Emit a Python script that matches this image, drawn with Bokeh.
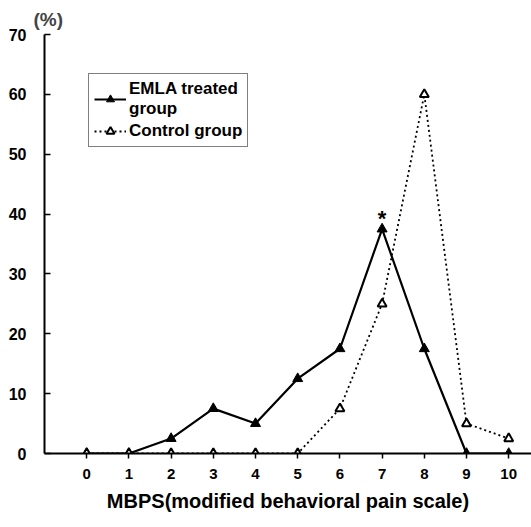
from bokeh.plotting import figure
from bokeh.models import Range1d, Legend, LegendItem, FixedTicker
from bokeh.core.properties import value
from bokeh.embed import file_html
from bokeh.resources import INLINE

# Data
scores = [0, 1, 2, 3, 4, 5, 6, 7, 8, 9, 10]
emla = [0, 0, 2.5, 7.5, 5, 12.5, 17.5, 37.5, 17.5, 0, 0]
control = [0, 0, 0, 0, 0, 0, 7.5, 25, 60, 5, 2.5]
y_ticks = [0, 10, 20, 30, 40, 50, 60, 70]
star_x = [7]
star_y = [39.2]
star_text = ["*"]

FONT = "Liberation Sans"

p = figure(width=531, height=527, output_backend="svg", toolbar_location=None,
           x_range=Range1d(-1.0, 10.54), y_range=Range1d(0, 70),
           min_border_left=44, min_border_right=0, min_border_top=34, min_border_bottom=74)
p.grid.visible = False
p.outline_line_color = None
p.background_fill_color = "white"

p.title.text = "(%)"
p.title.text_font = FONT
p.title.text_font_size = "19px"
p.title.text_font_style = "bold"
p.title.align = "left"
p.title.offset = -11
p.title.standoff = 9

# Axes
p.xaxis.ticker = FixedTicker(ticks=scores)
p.yaxis.ticker = FixedTicker(ticks=y_ticks)
for ax in (p.xaxis[0], p.yaxis[0]):
    ax.axis_line_width = 2
    ax.axis_line_color = "black"
    ax.major_tick_line_width = 1.5
    ax.minor_tick_line_color = None
    ax.major_label_text_font = FONT
    ax.major_label_text_font_style = "bold"
    ax.major_label_text_color = "black"

p.xaxis.major_tick_in = 0
p.xaxis.major_tick_out = 5
p.xaxis.major_label_text_font_size = "15px"
p.xaxis.major_label_standoff = 10
p.xaxis.axis_label = "MBPS(modified behavioral pain scale)"
p.xaxis.axis_label_text_font = FONT
p.xaxis.axis_label_text_font_size = "20px"
p.xaxis.axis_label_text_font_style = "bold"
p.xaxis.axis_label_text_color = "black"
p.xaxis.axis_label_standoff = 8

p.yaxis.major_tick_in = 6
p.yaxis.major_tick_out = 0
p.yaxis.major_label_text_font_size = "16px"
p.yaxis.major_label_standoff = 18

# Lines
l1 = p.line(scores, emla, line_color="black", line_width=2.2)
m1 = p.scatter(scores, emla, marker="triangle", size=10, fill_color="black", line_color="black")
l2 = p.line(scores, control, line_color="black", line_width=1.8, line_dash="2 3")
m2 = p.scatter(scores, control, marker="triangle", size=9, fill_color="white", line_color="black", line_width=2)

p.text(star_x, star_y, text=star_text, text_font=value(FONT), text_font_size="22px",
       text_font_style="bold", text_align="center", text_baseline="alphabetic", text_color="black")

legend = Legend(items=[LegendItem(label="EMLA treated\ngroup", renderers=[l1, m1]),
                       LegendItem(label="Control group", renderers=[l2, m2])],
                location=(44, 306))
legend.border_line_color = "black"
legend.border_line_width = 1.5
legend.label_text_font = FONT
legend.label_text_font_size = "17px"
legend.label_text_font_style = "bold"
legend.label_text_color = "black"
legend.padding = 5
legend.spacing = 2
legend.margin = 0
legend.glyph_width = 32
legend.label_standoff = 3
legend.background_fill_alpha = 1
p.add_layout(legend)

open("out.html", "w").write(file_html(p, INLINE))
